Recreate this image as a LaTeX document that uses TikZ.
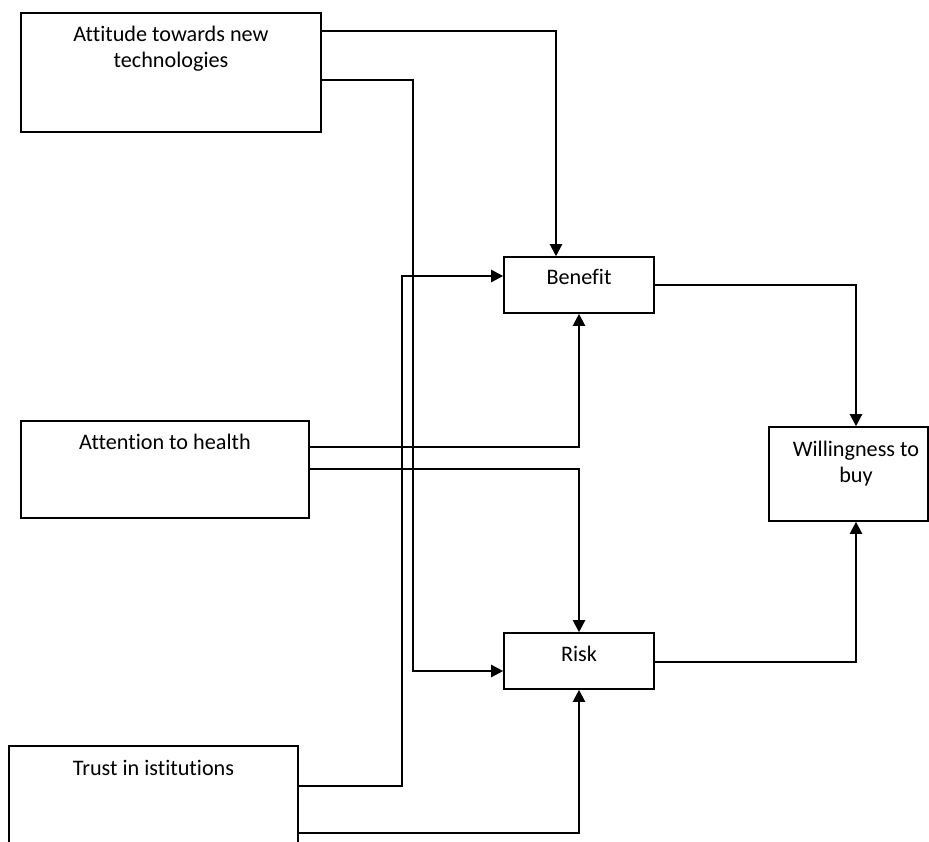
\documentclass[tikz,border=0pt]{standalone}
\usepackage{fontspec}
\setmainfont{Carlito}[Ligatures=NoCommon]
\usetikzlibrary{arrows.meta,positioning}
\begin{document}
\begin{tikzpicture}[x=1pt,y=-1pt,
    box/.style={draw, line width=1.6pt, inner sep=0pt},
    lbl/.style={inner sep=0pt, align=center, font=\fontsize{22.2}{26}\selectfont},
    flow/.style={line width=2.2pt, -{Triangle[length=12pt,width=12pt]}}]
  \useasboundingbox (0,0) rectangle (929,841);
  \clip (0,0) rectangle (929,841);
  % boxes
  \node[box, minimum width=300, minimum height=119] (att) at (171,72.5) {};
  \node[box, minimum width=288, minimum height=97] (attn) at (165,469.5) {};
  \node[box, minimum width=289, minimum height=120] (trust) at (153.5,806) {};
  \node[box, minimum width=150, minimum height=56] (ben) at (579,285) {};
  \node[box, minimum width=150, minimum height=56] (risk) at (579,661) {};
  \node[box, minimum width=159, minimum height=94] (will) at (848.5,474) {};
  % texts
  \node[lbl, below=14pt of att.north] (att-txt) {Attitude towards new\\technologies};
  \node[lbl, below=14pt of attn.north] (attn-txt) {Attention to health};
  \node[lbl, below=15pt of trust.north] (trust-txt) {Trust in istitutions};
  \node[lbl, below=13pt of ben.north] (ben-txt) {Benefit};
  \node[lbl, below=14pt of risk.north] (risk-txt) {Risk};
  \node[lbl, below=15pt of will.north, xshift=7.5pt] (will-txt) {Willingness to\\buy};
  % paths
  \draw[flow] ([yshift=-19pt]att.north east) -| ([xshift=-23pt]ben.north);
  \draw[flow] ([yshift=-68pt]att.north east) -- ++(91,0) |- ([yshift=-10pt]risk.west);
  \draw[flow] ([yshift=-27pt]attn.north east) -| (ben.south);
  \draw[flow] ([yshift=-49pt]attn.north east) -| (risk.north);
  \draw[flow] ([yshift=-41pt]trust.north east) -- ++(103,0) |- ([yshift=9pt]ben.west);
  \draw[flow] ([yshift=-88pt]trust.north east) -| (risk.south);
  \draw[flow] (ben.east) -| ([xshift=7.5pt]will.north);
  \draw[flow] ([yshift=-1pt]risk.east) -| ([xshift=7.5pt]will.south);
\end{tikzpicture}
\end{document}
